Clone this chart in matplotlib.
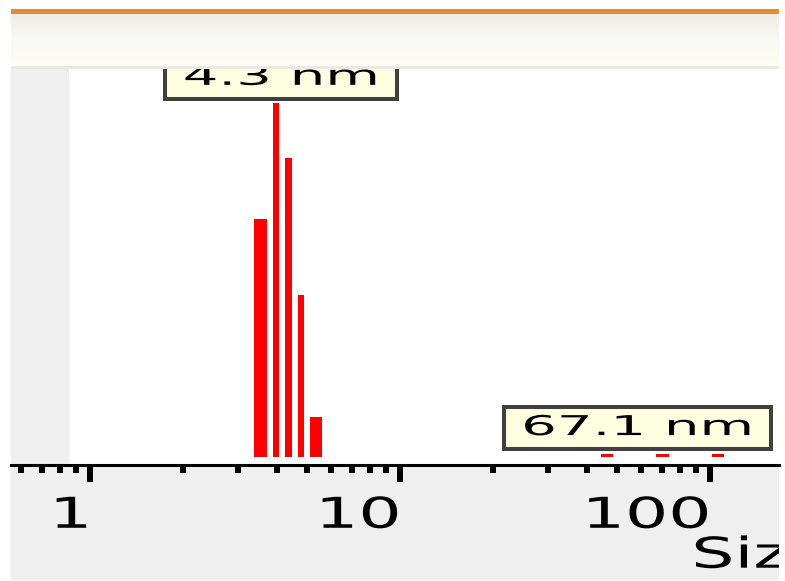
import numpy as np
import matplotlib
matplotlib.use('Agg')
import matplotlib.pyplot as plt
import matplotlib.patheffects as pe
from matplotlib.patches import Rectangle
from matplotlib.transforms import Affine2D
from matplotlib.ticker import LogLocator, NullFormatter

# Size distribution by intensity: bin edges (nm) and intensity (%)
size_lo = [3.38, 3.89, 4.26, 4.69, 5.12, 44.5, 67.0, 101.5]
size_hi = [3.72, 4.07, 4.48, 4.90, 5.60, 48.7, 73.8, 110.9]
intensity = [20.2, 30.1, 25.4, 13.8, 3.4, 0.26, 0.26, 0.26]

# Peak labels
peak_sizes = [4.3, 67.1]
peak_heights = [30.1, 0.26]
peak_labels = ['4.3 nm', '67.1 nm']

# Axis ticks
tick_values = [1, 10, 100]
tick_labels = ['1', '10', '100']
x_label = 'Size (d.nm)'


class Stretch(pe.AbstractPathEffect):
    """Draw a path widened horizontally (wide instrument-style lettering)."""

    def __init__(self, sx, anchor='center'):
        super().__init__()
        self.sx = sx
        self.anchor = anchor

    def draw_path(self, renderer, gc, tpath, affine, rgbFace=None):
        ext = tpath.get_extents()
        x0 = {'left': ext.x0, 'right': ext.x1,
              'center': 0.5 * (ext.x0 + ext.x1)}[self.anchor]
        t = Affine2D().translate(-x0, 0).scale(self.sx, 1).translate(x0, 0) + affine
        renderer.draw_path(gc, tpath, t, rgbFace)


W, H = 785, 581
fig = plt.figure(figsize=(W / 100, H / 100), dpi=100)
fig.patch.set_facecolor('white')


def fx(px):
    return px / W


def fy(py):
    return 1 - py / H


# Gray strip under the axis
bottom_band = Rectangle((fx(11), fy(580)), 768 / W, 114 / H, transform=fig.transFigure,
                        facecolor='#efefef', edgecolor='none', zorder=-1)
fig.add_artist(bottom_band)

# Main plot
ax = fig.add_axes([fx(11), fy(464.5), 768 / W, 395.5 / H])
ax.set_facecolor('white')
widths = np.array(size_hi) - np.array(size_lo)
ax.bar(size_lo, intensity, width=widths, align='edge', color='#ff0000', zorder=2)
ax.set_xscale('log')
ax.set_xlim(0.556, 167)
ax.set_ylim(-0.64, 33)

# gray margin on the left of the plot area
ax.add_patch(Rectangle((0, 0), 58 / 768, 1, transform=ax.transAxes,
                       facecolor='#efefef', edgecolor='none', zorder=0.5))

for side in ['top', 'left', 'right']:
    ax.spines[side].set_visible(False)
ax.spines['bottom'].set_linewidth(2.2)
ax.spines['bottom'].set_color('black')
ax.spines['bottom'].set_zorder(3)

ax.set_xticks(tick_values)
ax.set_xticklabels(tick_labels)
ax.xaxis.set_minor_locator(LogLocator(base=10, subs=np.arange(2, 10)))
ax.xaxis.set_minor_formatter(NullFormatter())
ax.tick_params(axis='x', which='major', direction='out', length=11.9, width=4.3,
               pad=9.9, labelsize=30.6, color='black')
ax.tick_params(axis='x', which='minor', direction='out', length=5.4, width=4.3, color='black')
ax.tick_params(axis='y', left=False, labelleft=False)
plt.setp(ax.get_xticklabels(), ha='right', path_effects=[Stretch(1.6, 'right')])

# Axis title, cut off at the right edge of the window
ax.set_xlabel(x_label, fontsize=30.6, ha='left', va='top')
ax.xaxis.set_label_coords((693 - 11) / 768, (464.5 - 534.7) / 395.5)
ax.xaxis.label.set_path_effects([Stretch(1.6, 'left')])
ax.xaxis.label.set_clip_path(bottom_band)
ax.xaxis.label.set_clip_on(True)

# Peak labels
offsets = [(-3.9, 18.2), (-13.5, 18.6)]
for s, h, lbl, off in zip(peak_sizes, peak_heights, peak_labels, offsets):
    t = ax.annotate(lbl, xy=(s, h), xytext=off, textcoords='offset points',
                    ha='center', va='center', fontsize=19.7, color='black',
                    bbox=dict(boxstyle='square,pad=0.3', fc='#fefee0', ec='#404040', lw=2.9),
                    zorder=4)
    t.set_path_effects([Stretch(2.05)])
    t.get_bbox_patch().set_path_effects([Stretch(2.05)])

# Window header: orange rule and shaded panel
hax = fig.add_axes([fx(11), fy(69), 768 / W, 55 / H], zorder=2)
top_c = np.array([0xee, 0xed, 0xe7]) / 255
mid_c = np.array([0xf9, 0xf9, 0xf5]) / 255
bot_c = np.array([0xfe, 0xfe, 0xf6]) / 255
rows = []
for i in range(52):
    f = i / 51
    if f < 0.5:
        rows.append(top_c + (mid_c - top_c) * f / 0.5)
    else:
        rows.append(mid_c + (bot_c - mid_c) * (f - 0.5) / 0.5)
rows += [np.array([0xeb, 0xea, 0xe2]) / 255] * 3
grad = np.array(rows)[:, None, :]
hax.imshow(grad, aspect='auto', interpolation='nearest', extent=[0, 1, 0, 1])
hax.axis('off')

fig.add_artist(Rectangle((fx(11), fy(14)), 768 / W, 5 / H, transform=fig.transFigure,
                         facecolor='#e68a2e', edgecolor='none', zorder=3))

fig.savefig('out.png', dpi=100)
